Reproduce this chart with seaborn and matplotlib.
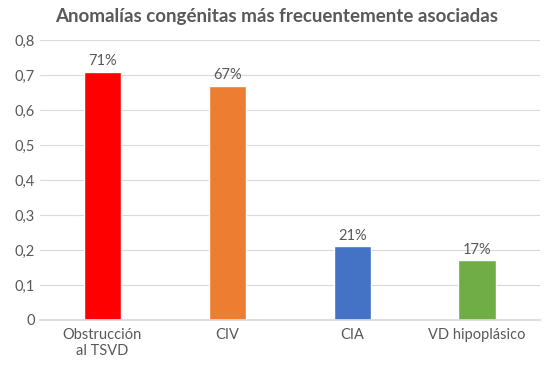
import matplotlib
matplotlib.use("Agg")
import matplotlib.pyplot as plt
import seaborn as sns
import pandas as pd

categories = ["Obstrucción\nal TSVD", "CIV", "CIA", "VD hipoplásico"]
values = [0.71, 0.67, 0.21, 0.17]
labels = ["71%", "67%", "21%", "17%"]
colors = ["#FF0000", "#ED7D31", "#4472C4", "#70AD47"]
yticks = [0, 0.1, 0.2, 0.3, 0.4, 0.5, 0.6, 0.7, 0.8]

sns.set_theme(style="white")
plt.rcParams["font.family"] = ["Lato", "DejaVu Sans"]
grey = "#595959"

df = pd.DataFrame({"cat": categories, "val": values})

fig = plt.figure(figsize=(5.53, 3.72), dpi=100)
ax = fig.add_axes([0.072, 0.14, 0.904, 0.752])
sns.barplot(data=df, x="cat", y="val", hue="cat", palette=colors,
            width=0.3, legend=False, ax=ax, saturation=1)

for i, (v, t) in enumerate(zip(values, labels)):
    ax.text(i, v + 0.01, t, ha="center", va="bottom", fontsize=10.5, color=grey)

ax.set_ylim(0, 0.8)
ax.set_yticks(yticks)
ax.set_yticklabels([("%g" % y).replace(".", ",") for y in yticks])
ax.yaxis.grid(True, color="#D9D9D9", linewidth=0.8)
ax.set_axisbelow(True)
for s in ["top", "right", "left"]:
    ax.spines[s].set_visible(False)
ax.spines["bottom"].set_color("#D9D9D9")
ax.tick_params(axis="both", length=0, labelsize=10.5, colors=grey)
ax.tick_params(axis="x", pad=6)
ax.set_xlabel("")
ax.set_ylabel("")
fig.text(0.5, 0.955, "Anomalías congénitas más frecuentemente asociadas",
         ha="center", va="center", fontsize=13.5, fontweight="bold", color=grey)

fig.savefig("out.png", dpi=100)
